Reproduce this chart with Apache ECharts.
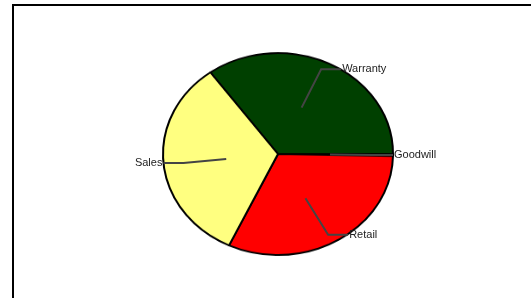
<!DOCTYPE html>
<html>
<head>
<meta charset="utf-8">
<script src="https://cdn.jsdelivr.net/npm/echarts@6/dist/echarts.min.js"></script>
<style>
  html, body { margin: 0; padding: 0; background: #fff; }
  #wrap { position: relative; width: 531px; height: 298px; overflow: hidden; }
  #frame { position: absolute; left: 12px; top: 4px; width: 600px; height: 400px; border: 2px solid #000; box-sizing: border-box; }
  #pie, #labels { position: absolute; left: 0; top: 0; width: 531px; height: 298px; }
  /* the original pie is an ellipse, squash the pie layer only */
  #pie { transform: scaleY(0.878); transform-origin: 0 154px; }
</style>
</head>
<body>
<div id="wrap">
  <div id="frame"></div>
  <div id="pie"></div>
  <div id="labels"></div>
</div>
<script>
var categories = ['Warranty', 'Goodwill', 'Retail', 'Sales'];
var values = [35, 0.3, 31.7, 33];
var colors = ['#004000', '#ff8080', '#ff0000', '#ffff80'];

var data = categories.map(function (name, i) {
  return { name: name, value: values[i], itemStyle: { color: colors[i] } };
});

var pieChart = echarts.init(document.getElementById('pie'));
pieChart.setOption({
  animation: false,
  series: [{
    type: 'pie',
    center: [278, 154],
    radius: 115,
    startAngle: 126,
    clockwise: true,
    avoidLabelOverlap: false,
    silent: true,
    label: { show: false },
    labelLine: { show: false },
    itemStyle: { borderColor: '#000', borderWidth: 2 },
    data: data
  }]
});

var labelChart = echarts.init(document.getElementById('labels'));
labelChart.setOption({
  animation: false,
  series: [{
    type: 'pie',
    center: [278, 154],
    radius: 52,
    startAngle: 126,
    clockwise: true,
    avoidLabelOverlap: false,
    silent: true,
    itemStyle: { color: 'transparent', borderWidth: 0 },
    label: {
      show: true,
      position: 'outside',
      color: '#222',
      fontFamily: 'Liberation Sans, Arial, sans-serif',
      fontSize: 11,
      distanceToLabelLine: 1
    },
    labelLine: {
      show: true,
      length: 43,
      length2: 20,
      smooth: false,
      lineStyle: { color: '#444', width: 2 }
    },
    data: categories.map(function (name, i) {
      return { name: name, value: values[i] };
    })
  }]
});

window.onresize = function () { pieChart.resize(); labelChart.resize(); };
</script>
</body>
</html>
